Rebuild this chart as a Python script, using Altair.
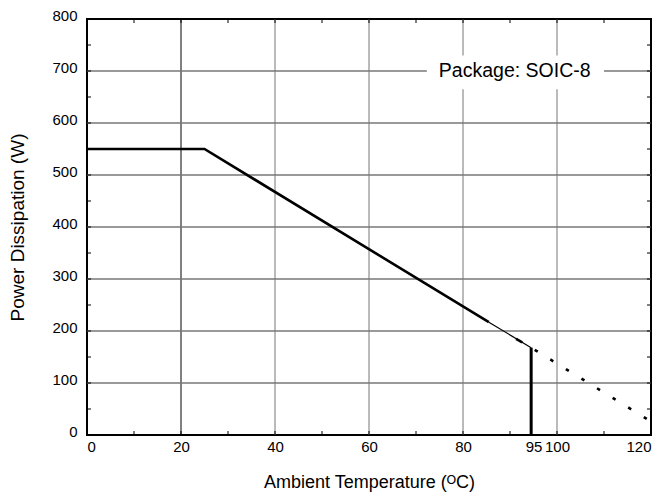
import altair as alt
import pandas as pd

# ---- data ----
thick_t = [0, 25, 85.5]
thick_p = [550, 550, 217]
thin_t = [85.5, 94.5]
thin_p = [217, 168]
dash_t = [91.3, 92.6]
dash_p = [185, 178]
dot_t = [94.5, 120]
dot_p = [168, 26]
limit_t = [94.5]
limit_p = [168]

x_labels = [0, 20, 40, 60, 80, 95, 100, 120]
y_labels = [0, 100, 200, 300, 400, 500, 600, 700, 800]
v_grid = [20, 40, 60, 80, 100]
v_grid_color = ["black", "#777777", "#777777", "#777777", "#777777"]
h_grid = [100, 200, 300, 400, 500, 600, 700]
x_minor = [10, 20, 30, 40, 50, 60, 70, 80, 90, 100, 110]
y_minor = [50, 100, 150, 200, 250, 300, 350, 400, 450, 500, 550, 600, 650, 700, 750]

W, H = 564, 416
FONT = "Liberation Sans"

xs = alt.Scale(domain=[0, 120], nice=False, zero=False)
ys = alt.Scale(domain=[0, 800], nice=False, zero=False)

xaxis = alt.Axis(values=x_labels, grid=False, ticks=False, domain=False,
                 labelFontSize=15, labelPadding=4, labelFont=FONT, labelColor="black",
                 title="Ambient Temperature (ᴼC)", titleFontSize=18, titleFont=FONT,
                 titleFontWeight="normal", titlePadding=19, titleColor="black")
yaxis = alt.Axis(values=y_labels, grid=False, ticks=False, domain=False,
                 labelFontSize=15, labelPadding=10, labelFont=FONT, labelColor="black",
                 labelOffset=-4,
                 title="Power Dissipation (W)", titleFontSize=19, titleFont=FONT,
                 titleFontWeight="normal", titlePadding=24, titleColor="black")

base_axes = alt.Chart(pd.DataFrame({"t": [0], "p": [0]})).mark_point(opacity=0).encode(
    x=alt.X("t:Q", scale=xs, axis=xaxis),
    y=alt.Y("p:Q", scale=ys, axis=yaxis),
)

vg = alt.Chart(pd.DataFrame({"t": v_grid, "c": v_grid_color})).mark_rule(strokeWidth=1).encode(
    x=alt.X("t:Q", scale=xs), color=alt.Color("c:N", scale=None))
hg = alt.Chart(pd.DataFrame({"p": h_grid})).mark_rule(strokeWidth=1.3, color="#777777").encode(
    y=alt.Y("p:Q", scale=ys))

xt = pd.DataFrame({"t": x_minor})
xtick_b = alt.Chart(xt).mark_rule(color="black", strokeWidth=1).encode(
    x=alt.X("t:Q", scale=xs), y=alt.value(H), y2=alt.value(H - 4))
xtick_t = alt.Chart(xt).mark_rule(color="black", strokeWidth=1).encode(
    x=alt.X("t:Q", scale=xs), y=alt.value(0), y2=alt.value(4))
yt = pd.DataFrame({"p": y_minor})
ytick_l = alt.Chart(yt).mark_rule(color="black", strokeWidth=1).encode(
    y=alt.Y("p:Q", scale=ys), x=alt.value(0), x2=alt.value(4))
ytick_r = alt.Chart(yt).mark_rule(color="black", strokeWidth=1).encode(
    y=alt.Y("p:Q", scale=ys), x=alt.value(W), x2=alt.value(W - 4))

# white box behind the label
box = alt.Chart(pd.DataFrame({"x1": [72.3], "x2": [110], "y1": [665], "y2": [730]})).mark_rect(
    color="white").encode(
    x=alt.X("x1:Q", scale=xs), x2="x2:Q", y=alt.Y("y1:Q", scale=ys), y2="y2:Q")
label = alt.Chart(pd.DataFrame({"t": [91], "p": [700], "s": ["Package: SOIC-8"]})).mark_text(
    fontSize=19.5, font=FONT, color="black", align="center", baseline="middle").encode(
    x=alt.X("t:Q", scale=xs), y=alt.Y("p:Q", scale=ys), text="s:N")

thick = alt.Chart(pd.DataFrame({"t": thick_t, "p": thick_p})).mark_line(
    color="black", strokeWidth=2.6).encode(x=alt.X("t:Q", scale=xs), y=alt.Y("p:Q", scale=ys))
thin = alt.Chart(pd.DataFrame({"t": thin_t, "p": thin_p})).mark_line(
    color="black", strokeWidth=1.2).encode(x=alt.X("t:Q", scale=xs), y=alt.Y("p:Q", scale=ys))
dash = alt.Chart(pd.DataFrame({"t": dash_t, "p": dash_p})).mark_line(
    color="black", strokeWidth=2.6).encode(x=alt.X("t:Q", scale=xs), y=alt.Y("p:Q", scale=ys))
dots = alt.Chart(pd.DataFrame({"t": dot_t, "p": dot_p})).mark_line(
    color="black", strokeWidth=2.6, strokeDash=[3.5, 14.8], strokeDashOffset=14.1, strokeCap="butt").encode(
    x=alt.X("t:Q", scale=xs), y=alt.Y("p:Q", scale=ys))
limit = alt.Chart(pd.DataFrame({"t": limit_t, "p": limit_p})).mark_rule(
    color="black", strokeWidth=3).encode(
    x=alt.X("t:Q", scale=xs), y=alt.Y("p:Q", scale=ys), y2=alt.datum(0))

chart = alt.layer(base_axes, vg, hg, xtick_b, xtick_t, ytick_l, ytick_r, box, label,
                  thick, thin, dash, dots, limit).properties(
    width=W, height=H,
    autosize=alt.AutoSizeParams(type="none"),
    padding={"left": 79, "top": 11, "right": 4, "bottom": 62},
    background="white",
).configure_view(stroke="black", strokeWidth=2)

chart.save("out.html", embed_options={"renderer": "svg", "actions": False})
